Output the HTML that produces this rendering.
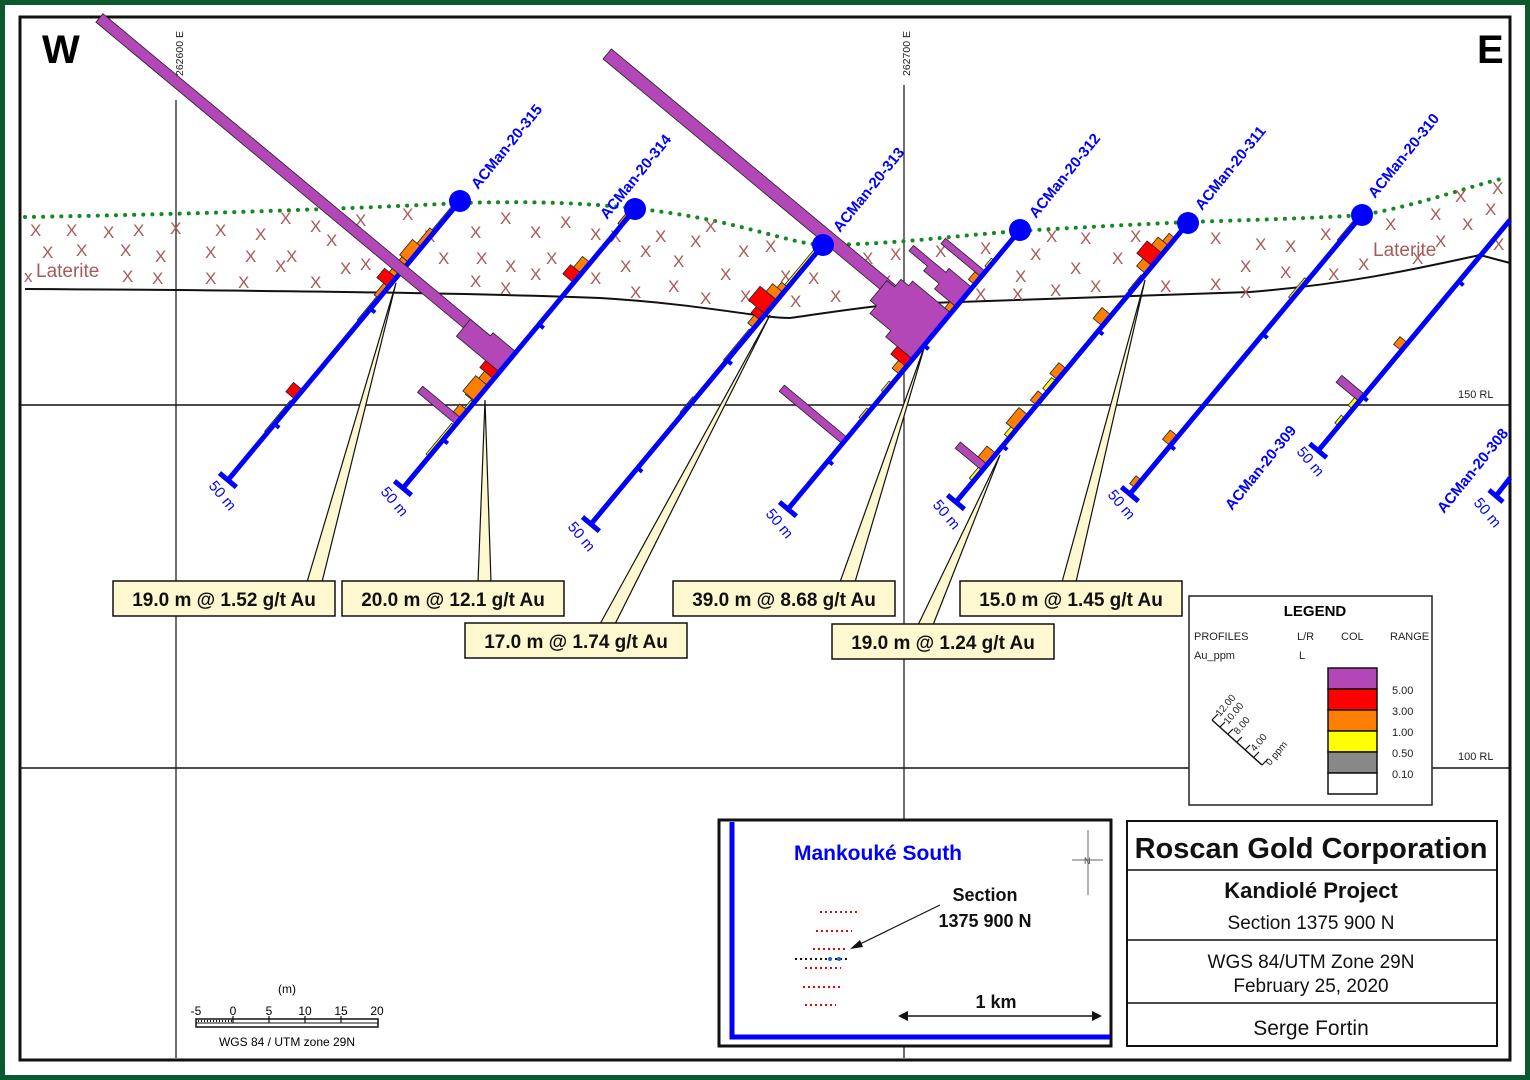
<!DOCTYPE html>
<html><head><meta charset="utf-8"><style>
html,body{margin:0;padding:0;background:#fff;}
svg{display:block;}
text{font-family:"Liberation Sans",sans-serif;}
</style></head><body>
<svg width="1530" height="1080" viewBox="0 0 1530 1080" xmlns="http://www.w3.org/2000/svg">
<rect x="0" y="0" width="1530" height="1080" fill="#fff"/>
<rect x="2.5" y="2.5" width="1525" height="1075" fill="none" stroke="#0b5a2c" stroke-width="5"/>
<rect x="20" y="17" width="1490" height="1043" fill="none" stroke="#111" stroke-width="3"/>

<line x1="176" y1="100" x2="176" y2="1058" stroke="#111" stroke-width="1.2"/>
<line x1="904" y1="85" x2="904" y2="1058" stroke="#111" stroke-width="1.2"/>
<line x1="21" y1="405" x2="1509" y2="405" stroke="#111" stroke-width="1.5"/>
<line x1="21" y1="768" x2="1509" y2="768" stroke="#111" stroke-width="1.5"/>
<text transform="translate(183,76) rotate(-90)" font-size="10.5" fill="#222">262600 E</text>
<text transform="translate(910,76) rotate(-90)" font-size="10.5" fill="#222">262700 E</text>
<text x="1458" y="398" font-size="11" fill="#222">150 RL</text>
<text x="1458" y="760" font-size="11" fill="#222">100 RL</text>
<text x="42" y="63" font-size="40" font-weight="bold" fill="#000">W</text>
<text x="1477" y="63" font-size="40" font-weight="bold" fill="#000">E</text>

<path d="M25,217 C150,215 330,210 460,203 C560,200 640,205 720,222 C780,236 800,244 823,245 C900,244 950,236 1020,231 C1100,226 1150,224 1188,222 C1250,220 1320,218 1362,215 C1420,205 1470,186 1505,178" fill="none" stroke="#138a1f" stroke-width="4" stroke-dasharray="0.1 9" stroke-linecap="round"/>
<path d="M25,289 C200,290 450,292 600,298 C700,304 760,318 790,318 C820,314 860,307 900,304 C1000,300 1150,296 1250,292 C1350,284 1420,268 1480,255 L1510,263" fill="none" stroke="#111" stroke-width="2"/>
<g font-size="17" fill="#a85a5a">
<text x="30" y="236">X</text><text x="66" y="236">X</text><text x="103" y="238">X</text><text x="133" y="236">X</text><text x="170" y="234">X</text><text x="215" y="236">X</text><text x="255" y="240">X</text><text x="280" y="224">X</text><text x="310" y="232">X</text><text x="355" y="226">X</text><text x="402" y="220">X</text>
<text x="42" y="258">X</text><text x="76" y="256">X</text><text x="120" y="256">X</text><text x="155" y="262">X</text><text x="205" y="258">X</text><text x="245" y="262">X</text><text x="286" y="262">X</text><text x="326" y="246">X</text><text x="360" y="270">X</text>
<text x="122" y="282">X</text><text x="205" y="284">X</text><text x="238" y="288">X</text><text x="275" y="272">X</text><text x="310" y="288">X</text><text x="340" y="274">X</text><text x="24" y="282">x</text><text x="152" y="284">X</text>
<text x="470" y="238">X</text><text x="500" y="224">X</text><text x="530" y="238">X</text><text x="560" y="228">X</text><text x="590" y="240">X</text><text x="424" y="242">X</text><text x="438" y="264">X</text><text x="476" y="264">X</text><text x="505" y="272">X</text><text x="546" y="264">X</text><text x="470" y="287">X</text><text x="500" y="294">X</text><text x="530" y="280">X</text><text x="590" y="284">X</text><text x="620" y="272">X</text><text x="640" y="257">X</text><text x="655" y="242">X</text><text x="673" y="267">X</text><text x="690" y="247">X</text><text x="700" y="304">X</text><text x="720" y="280">X</text><text x="630" y="298">X</text><text x="668" y="292">X</text><text x="738" y="257">X</text><text x="765" y="252">X</text><text x="780" y="282">X</text><text x="705" y="232">X</text><text x="740" y="302">X</text><text x="610" y="242">X</text>
<text x="790" y="307">X</text><text x="808" y="284">X</text><text x="830" y="302">X</text><text x="862" y="264">X</text><text x="880" y="287">X</text><text x="890" y="260">X</text><text x="935" y="257">X</text><text x="980" y="254">X</text><text x="975" y="300">X</text><text x="1015" y="282">X</text><text x="1030" y="260">X</text><text x="1046" y="242">X</text><text x="1070" y="274">X</text><text x="1080" y="244">X</text><text x="1090" y="292">X</text><text x="1112" y="264">X</text><text x="1130" y="242">X</text><text x="1160" y="292">X</text><text x="1050" y="296">X</text><text x="1012" y="300">X</text>
<text x="1210" y="244">X</text><text x="1240" y="272">X</text><text x="1255" y="250">X</text><text x="1285" y="252">X</text><text x="1210" y="290">X</text><text x="1240" y="298">X</text><text x="1280" y="278">X</text><text x="1320" y="240">X</text><text x="1328" y="280">X</text><text x="1358" y="270">X</text><text x="1385" y="230">X</text><text x="1430" y="220">X</text><text x="1435" y="247">X</text><text x="1455" y="202">X</text><text x="1462" y="230">X</text><text x="1485" y="215">X</text><text x="1493" y="250">X</text><text x="1492" y="194">X</text><text x="1412" y="264">X</text>
</g>
<text x="36" y="277" font-size="19" fill="#a85a5a">Laterite</text>
<text x="1373" y="256" font-size="19" fill="#a85a5a">Laterite</text>

<g fill="#fdf8d0" stroke="#111" stroke-width="1.2">
<polygon points="307,582 322,582 396,283"/>
<polygon points="478,582 491,582 485,400"/>
<polygon points="600,624 615,624 770,315"/>
<polygon points="840,582 855,582 925,345"/>
<polygon points="918,625 933,625 1000,455"/>
<polygon points="1062,582 1076,582 1145,280"/>
</g>

<defs>
<style>.pu{fill:#b347b8;stroke:#222;stroke-width:0.8}.rd{fill:#f00;stroke:#222;stroke-width:0.8}.or{fill:#ff8000;stroke:#222;stroke-width:0.8}.ye{fill:#ff0;stroke:#222;stroke-width:0.8}</style>
</defs>

<g transform="translate(460,201) rotate(129.74)">
<rect class="ye" x="5" y="0" width="35" height="3"/>
<rect class="or" x="40" y="0" width="20" height="6"/><rect class="or" x="60" y="0" width="20" height="12"/><rect class="or" x="80" y="0" width="20" height="9"/>
<rect class="rd" x="100" y="0" width="12" height="15"/><rect class="or" x="112" y="0" width="15" height="6"/>
<rect class="ye" x="127" y="0" width="30" height="3"/>
<rect class="rd" x="246" y="0" width="12" height="12"/><rect class="ye" x="262" y="0" width="40" height="3"/>
<line x1="0" y1="0" x2="363" y2="0" stroke="#0000ff" stroke-width="5"/>
<line x1="363" y1="-11" x2="363" y2="11" stroke="#0000ff" stroke-width="5"/>
<line x1="140" y1="0" x2="140" y2="-6" stroke="#0000ff" stroke-width="4"/>
<line x1="290" y1="0" x2="290" y2="-6" stroke="#0000ff" stroke-width="4"/>
</g>
<g transform="translate(635,209) rotate(129.74)">
<rect class="or" x="8" y="0" width="14" height="4"/>
<rect class="or" x="70" y="0" width="14" height="10"/><rect class="rd" x="84" y="0" width="12" height="14"/>
<rect class="pu" x="190" y="0" width="11" height="534"/>
<polygon class="pu" points="186,0 186,30 190,30 190,56 212,56 212,0"/>
<rect class="rd" x="212" y="0" width="9" height="18"/>
<rect class="or" x="221" y="0" width="30" height="12"/><rect class="or" x="230" y="0" width="20" height="16"/>
<rect class="ye" x="252" y="0" width="20" height="4"/>
<rect class="pu" x="272" y="0" width="8" height="50"/>
<rect class="or" x="262" y="0" width="10" height="10"/>
<rect class="ye" x="282" y="0" width="40" height="4"/>
<line x1="0" y1="0" x2="363" y2="0" stroke="#0000ff" stroke-width="5"/>
<line x1="363" y1="-11" x2="363" y2="11" stroke="#0000ff" stroke-width="5"/>
<line x1="150" y1="0" x2="150" y2="-6" stroke="#0000ff" stroke-width="4"/>
<line x1="300" y1="0" x2="300" y2="-6" stroke="#0000ff" stroke-width="4"/>
</g>
<g transform="translate(823,245) rotate(129.74)">
<rect class="ye" x="5" y="0" width="50" height="4"/>
<rect class="or" x="55" y="0" width="15" height="8"/><rect class="or" x="62" y="0" width="10" height="14"/>
<rect class="rd" x="72" y="0" width="18" height="22"/><rect class="rd" x="90" y="0" width="8" height="12"/><rect class="or" x="98" y="0" width="10" height="8"/>
<rect class="ye" x="112" y="0" width="40" height="3"/><rect class="ye" x="200" y="0" width="20" height="3"/>
<line x1="0" y1="0" x2="363" y2="0" stroke="#0000ff" stroke-width="5"/>
<line x1="363" y1="-11" x2="363" y2="11" stroke="#0000ff" stroke-width="5"/>
<line x1="150" y1="0" x2="150" y2="-6" stroke="#0000ff" stroke-width="4"/>
<line x1="290" y1="0" x2="290" y2="-6" stroke="#0000ff" stroke-width="4"/>
</g>
<g transform="translate(1020,230) rotate(129.74)">
<rect class="ye" x="40" y="0" width="10" height="4"/>
<rect class="pu" x="54" y="0" width="7" height="52"/>
<rect class="or" x="61" y="0" width="10" height="8"/>
<polygon class="pu" points="75,0 75,30 80,30 80,72 87,72 87,48 93,48 93,28 100,28 100,0"/>
<rect class="or" x="100" y="0" width="8" height="8"/>
<rect class="pu" x="122" y="0" width="13" height="430"/>
<polygon class="pu" points="108,0 108,50 114,50 114,60 124,60 124,70 150,70 150,62 160,62 160,35 168,35 168,0"/>
<rect class="rd" x="168" y="0" width="10" height="20"/><rect class="or" x="178" y="0" width="10" height="10"/>
<rect class="ye" x="200" y="0" width="12" height="4"/><rect class="ye" x="235" y="0" width="12" height="4"/>
<rect class="pu" x="270" y="0" width="8" height="82"/>
<line x1="0" y1="0" x2="363" y2="0" stroke="#0000ff" stroke-width="5"/>
<line x1="363" y1="-11" x2="363" y2="11" stroke="#0000ff" stroke-width="5"/>
<line x1="150" y1="0" x2="150" y2="-6" stroke="#0000ff" stroke-width="4"/>
<line x1="300" y1="0" x2="300" y2="-6" stroke="#0000ff" stroke-width="4"/>
</g>
<g transform="translate(1188,223) rotate(129.74)">
<rect class="or" x="20" y="0" width="18" height="8"/><rect class="or" x="30" y="0" width="10" height="14"/>
<rect class="rd" x="40" y="0" width="16" height="20"/><rect class="or" x="56" y="0" width="10" height="12"/>
<rect class="ye" x="70" y="0" width="20" height="3"/>
<rect class="or" x="120" y="0" width="14" height="12"/>
<rect class="or" x="190" y="0" width="14" height="10"/><rect class="ye" x="206" y="0" width="14" height="6"/><rect class="or" x="225" y="0" width="12" height="8"/>
<rect class="or" x="250" y="0" width="20" height="12"/><rect class="ye" x="270" y="0" width="10" height="6"/>
<rect class="or" x="300" y="0" width="14" height="12"/>
<rect class="pu" x="314" y="0" width="8" height="35"/><rect class="ye" x="322" y="0" width="14" height="5"/>
<line x1="0" y1="0" x2="363" y2="0" stroke="#0000ff" stroke-width="5"/>
<line x1="363" y1="-11" x2="363" y2="11" stroke="#0000ff" stroke-width="5"/>
<line x1="140" y1="0" x2="140" y2="-6" stroke="#0000ff" stroke-width="4"/>
<line x1="290" y1="0" x2="290" y2="-6" stroke="#0000ff" stroke-width="4"/>
</g>
<g transform="translate(1362,215) rotate(129.74)">
<rect class="ye" x="10" y="0" width="25" height="3"/><rect class="ye" x="85" y="0" width="25" height="4"/>
<rect class="or" x="288" y="0" width="12" height="10"/>
<rect class="or" x="345" y="0" width="10" height="7"/>
<line x1="0" y1="0" x2="363" y2="0" stroke="#0000ff" stroke-width="5"/>
<line x1="363" y1="-11" x2="363" y2="11" stroke="#0000ff" stroke-width="5"/>
<line x1="155" y1="0" x2="155" y2="-6" stroke="#0000ff" stroke-width="4"/>
<line x1="300" y1="0" x2="300" y2="-6" stroke="#0000ff" stroke-width="4"/>
</g>
<g transform="translate(1510,220) rotate(129.74)">
<rect class="or" x="160" y="0" width="10" height="10"/>
<rect class="pu" x="227" y="0" width="9" height="30"/><rect class="ye" x="236" y="0" width="10" height="6"/>
<rect class="ye" x="258" y="0" width="10" height="5"/>
<line x1="0" y1="0" x2="300" y2="0" stroke="#0000ff" stroke-width="5"/>
<line x1="300" y1="-11" x2="300" y2="11" stroke="#0000ff" stroke-width="5"/>
<line x1="80" y1="0" x2="80" y2="-6" stroke="#0000ff" stroke-width="4"/>
<line x1="230" y1="0" x2="230" y2="-6" stroke="#0000ff" stroke-width="4"/>
</g>
<line x1="1510" y1="478" x2="1496" y2="496" stroke="#0000ff" stroke-width="5"/>
<line x1="1489" y1="490" x2="1503" y2="502" stroke="#0000ff" stroke-width="5"/>

<g fill="#0000ff">
<circle cx="460" cy="201" r="11"/><circle cx="635" cy="209" r="11"/><circle cx="823" cy="245" r="11"/>
<circle cx="1020" cy="230" r="11"/><circle cx="1188" cy="223" r="11"/><circle cx="1362" cy="215" r="11"/>
</g>

<g font-size="15" font-weight="bold" fill="#0000ff">
<text transform="translate(478,190) rotate(-51)">ACMan-20-315</text>
<text transform="translate(607,220) rotate(-51)">ACMan-20-314</text>
<text transform="translate(840,233) rotate(-51)">ACMan-20-313</text>
<text transform="translate(1036,219) rotate(-51)">ACMan-20-312</text>
<text transform="translate(1202,211) rotate(-51)">ACMan-20-311</text>
<text transform="translate(1375,199) rotate(-51)">ACMan-20-310</text>
<text transform="translate(1232,511) rotate(-51)">ACMan-20-309</text>
<text transform="translate(1444,514) rotate(-51)">ACMan-20-308</text>
</g>
<g font-size="15" fill="#0000ff">
<text transform="translate(208,486) rotate(50)">50 m</text>
<text transform="translate(380,492) rotate(50)">50 m</text>
<text transform="translate(567,527) rotate(50)">50 m</text>
<text transform="translate(765,514) rotate(50)">50 m</text>
<text transform="translate(932,505) rotate(50)">50 m</text>
<text transform="translate(1107,495) rotate(50)">50 m</text>
<text transform="translate(1296,452) rotate(50)">50 m</text>
<text transform="translate(1473,503) rotate(50)">50 m</text>
</g>

<g fill="#fdf8d0" stroke="#111" stroke-width="1.5">
<rect x="113" y="581" width="222" height="35"/>
<rect x="342" y="581" width="222" height="35"/>
<rect x="465" y="623" width="222" height="35"/>
<rect x="673" y="581" width="222" height="35"/>
<rect x="832" y="624" width="222" height="35"/>
<rect x="960" y="581" width="222" height="35"/>
</g>
<g font-size="19" font-weight="bold" fill="#111" text-anchor="middle">
<text x="224" y="606">19.0 m @ 1.52 g/t Au</text>
<text x="453" y="606">20.0 m @ 12.1 g/t Au</text>
<text x="576" y="648">17.0 m @ 1.74 g/t Au</text>
<text x="784" y="606">39.0 m @ 8.68 g/t Au</text>
<text x="943" y="649">19.0 m @ 1.24 g/t Au</text>
<text x="1071" y="606">15.0 m @ 1.45 g/t Au</text>
</g>

<rect x="1189" y="596" width="243" height="209" fill="#fff" stroke="#222" stroke-width="1.5"/>
<text x="1315" y="616" font-size="15" font-weight="bold" text-anchor="middle">LEGEND</text>
<g font-size="11" fill="#222">
<text x="1194" y="640">PROFILES</text><text x="1297" y="640">L/R</text><text x="1341" y="640">COL</text><text x="1390" y="640">RANGE</text>
<text x="1194" y="659">Au_ppm</text><text x="1299" y="659">L</text>
<text x="1392" y="694">5.00</text><text x="1392" y="715">3.00</text><text x="1392" y="736">1.00</text><text x="1392" y="757">0.50</text><text x="1392" y="778">0.10</text>
</g>
<g stroke="#111" stroke-width="1.5">
<rect x="1328" y="668" width="49" height="21" fill="#b347b8"/>
<rect x="1328" y="689" width="49" height="21" fill="#f00"/>
<rect x="1328" y="710" width="49" height="21" fill="#ff8000"/>
<rect x="1328" y="731" width="49" height="21" fill="#ff0"/>
<rect x="1328" y="752" width="49" height="21" fill="#888"/>
<rect x="1328" y="773" width="49" height="21" fill="#fff"/>
</g>
<line x1="1212" y1="720" x2="1262" y2="765" stroke="#111" stroke-width="1.5"/>
<g stroke="#111" stroke-width="1.2">
<line x1="1212" y1="720" x2="1218" y2="714"/><line x1="1220" y1="727" x2="1225" y2="722"/><line x1="1228" y1="734" x2="1233" y2="729"/><line x1="1237" y1="742" x2="1242" y2="737"/><line x1="1245" y1="750" x2="1250" y2="745"/><line x1="1254" y1="757" x2="1259" y2="752"/><line x1="1262" y1="765" x2="1268" y2="759"/>
</g>
<g font-size="10" fill="#222">
<text transform="translate(1220,717) rotate(-50)">12.00</text>
<text transform="translate(1228,725) rotate(-50)">10.00</text>
<text transform="translate(1238,735) rotate(-50)">8.00</text>
<text transform="translate(1255,752) rotate(-50)">4.00</text>
<text transform="translate(1270,766) rotate(-50)">0 ppm</text>
</g>

<rect x="719" y="820" width="392" height="226" fill="#fff" stroke="#111" stroke-width="3"/>
<polyline points="732,822 732,1037 1110,1037" fill="none" stroke="#0000ff" stroke-width="5"/>
<text x="794" y="860" font-size="21" font-weight="bold" fill="#0000ff">Mankouké South</text>
<text x="985" y="901" font-size="18" font-weight="bold" fill="#111" text-anchor="middle">Section</text>
<text x="985" y="927" font-size="18" font-weight="bold" fill="#111" text-anchor="middle">1375 900 N</text>
<line x1="940" y1="905" x2="856" y2="946" stroke="#111" stroke-width="1.2"/>
<polygon points="850,949 860,940 863,947" fill="#111"/>
<g stroke="#e00" stroke-width="2" stroke-dasharray="2 3">
<line x1="820" y1="912" x2="857" y2="912"/><line x1="816" y1="931" x2="852" y2="931"/><line x1="813" y1="949" x2="848" y2="949"/>
<line x1="805" y1="968" x2="841" y2="968"/><line x1="803" y1="987" x2="840" y2="987"/><line x1="805" y1="1005" x2="836" y2="1005"/>
</g>
<line x1="795" y1="959" x2="849" y2="959" stroke="#111" stroke-width="2" stroke-dasharray="2 3"/>
<circle cx="830" cy="959" r="2" fill="#2266cc"/><circle cx="839" cy="959" r="2" fill="#2266cc"/>
<text x="996" y="1008" font-size="18" font-weight="bold" fill="#111" text-anchor="middle">1 km</text>
<line x1="904" y1="1016" x2="1096" y2="1016" stroke="#111" stroke-width="1.5"/>
<polygon points="898,1016 908,1011 908,1021" fill="#111"/><polygon points="1102,1016 1092,1011 1092,1021" fill="#111"/>
<g stroke="#666" stroke-width="1"><line x1="1088" y1="830" x2="1088" y2="895"/><line x1="1072" y1="860" x2="1103" y2="860"/></g>
<text x="1084" y="864" font-size="9" fill="#444">N</text>

<rect x="1127" y="821" width="370" height="225" fill="#fff" stroke="#111" stroke-width="2"/>
<line x1="1127" y1="870" x2="1497" y2="870" stroke="#111" stroke-width="1.5"/>
<line x1="1127" y1="940" x2="1497" y2="940" stroke="#111" stroke-width="1.5"/>
<line x1="1127" y1="1003" x2="1497" y2="1003" stroke="#111" stroke-width="1.5"/>
<g fill="#111" text-anchor="middle">
<text x="1311" y="858" font-size="29" font-weight="bold">Roscan Gold Corporation</text>
<text x="1311" y="898" font-size="22" font-weight="bold">Kandiolé Project</text>
<text x="1311" y="929" font-size="19">Section 1375 900 N</text>
<text x="1311" y="968" font-size="19">WGS 84/UTM Zone 29N</text>
<text x="1311" y="992" font-size="19">February 25, 2020</text>
<text x="1311" y="1035" font-size="21">Serge Fortin</text>
</g>

<text x="287" y="993" font-size="12" text-anchor="middle">(m)</text>
<g font-size="12" text-anchor="middle">
<text x="196" y="1015">-5</text><text x="233" y="1015">0</text><text x="269" y="1015">5</text><text x="305" y="1015">10</text><text x="341" y="1015">15</text><text x="377" y="1015">20</text>
</g>
<rect x="196" y="1019" width="182" height="8" fill="#fff" stroke="#111" stroke-width="1.5"/>
<line x1="196" y1="1023" x2="378" y2="1023" stroke="#111" stroke-width="1"/>
<line x1="198" y1="1021" x2="232" y2="1021" stroke="#111" stroke-width="2" stroke-dasharray="1 2"/>
<g stroke="#111" stroke-width="1.2"><line x1="233" y1="1016" x2="233" y2="1023"/><line x1="269" y1="1016" x2="269" y2="1023"/><line x1="305" y1="1016" x2="305" y2="1023"/><line x1="341" y1="1016" x2="341" y2="1023"/></g>
<text x="287" y="1046" font-size="12" text-anchor="middle">WGS 84 / UTM zone 29N</text>
</svg>
</body></html>
